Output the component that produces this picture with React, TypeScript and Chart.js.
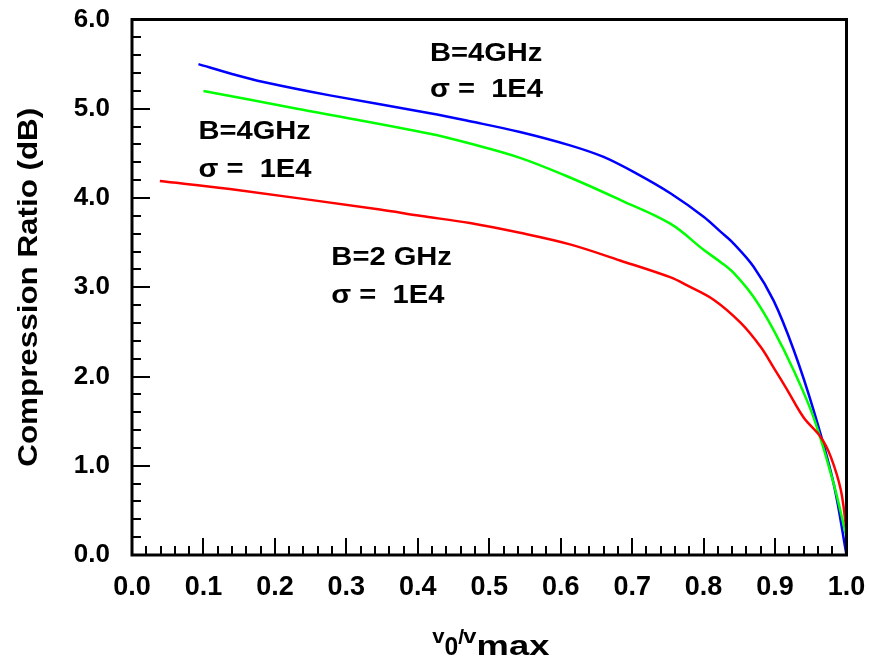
import React, { useEffect, useRef } from "react";
import { Chart, registerables } from "chart.js";

Chart.register(...registerables);

// ---- data ----
const blueX = [0.093, 0.14, 0.184, 0.277, 0.417, 0.473, 0.543, 0.613, 0.66, 0.707, 0.754, 0.80, 0.824, 0.842, 0.87, 0.898, 0.926, 0.954, 0.982, 1.0];
const blueY = [5.50, 5.39, 5.30, 5.15, 4.95, 4.86, 4.74, 4.59, 4.46, 4.27, 4.05, 3.79, 3.62, 3.49, 3.23, 2.85, 2.30, 1.62, 0.80, 0.0];

const greenX = [0.10, 0.231, 0.417, 0.473, 0.543, 0.613, 0.683, 0.754, 0.80, 0.824, 0.842, 0.87, 0.898, 0.926, 0.954, 0.982, 1.0];
const greenY = [5.20, 5.00, 4.72, 4.61, 4.45, 4.23, 3.98, 3.71, 3.42, 3.28, 3.16, 2.89, 2.52, 2.07, 1.54, 0.80, 0.2];

const redX = [0.039, 0.137, 0.347, 0.403, 0.473, 0.543, 0.613, 0.683, 0.754, 0.777, 0.814, 0.852, 0.88, 0.898, 0.917, 0.94, 0.964, 0.978, 0.992, 1.0];
const redY = [4.19, 4.10, 3.87, 3.80, 3.72, 3.61, 3.48, 3.30, 3.11, 3.02, 2.86, 2.60, 2.33, 2.10, 1.85, 1.54, 1.32, 1.10, 0.73, 0.28];

const xTickMin = 0;
const xTickMax = 1;
const xTickStep = 0.1;
const yTickMin = 0;
const yTickMax = 6;
const yTickStep = 1;

// annotation labels in data coordinates
const annoLabels = ["B=4GHz", "σ =  1E4", "B=4GHz", "σ =  1E4", "B=2 GHz", "σ =  1E4"];
const annoX = [0.417, 0.417, 0.093, 0.093, 0.279, 0.279];
const annoY = [5.53, 5.13, 4.66, 4.24, 3.25, 2.82];

const FONT = '"Liberation Sans", Arial, sans-serif';

function drawScaled(ctx: CanvasRenderingContext2D, text: string, x: number, y: number, size: number, sx: number) {
  ctx.save();
  ctx.translate(x, y);
  ctx.scale(sx, 1);
  ctx.font = `bold ${size}px ${FONT}`;
  ctx.textAlign = "left";
  ctx.textBaseline = "alphabetic";
  ctx.fillStyle = "#000";
  ctx.fillText(text, 0, 0);
  const w = ctx.measureText(text).width * sx;
  ctx.restore();
  return w;
}

const framePlugin = {
  id: "frameTicks",
  afterDraw(chart: any) {
    const ctx: CanvasRenderingContext2D = chart.ctx;
    const { left, right, top, bottom } = chart.chartArea;
    const xs = chart.scales.x;
    const ys = chart.scales.y;
    ctx.save();
    ctx.strokeStyle = "#000";
    ctx.lineWidth = 2;
    ctx.beginPath();
    for (let i = 0; i <= 50; i++) {
      const px = Math.round(xs.getPixelForValue(i * 0.02));
      const len = i % 5 === 0 ? 17 : 9;
      ctx.moveTo(px, bottom);
      ctx.lineTo(px, bottom - len);
    }
    for (let i = 0; i <= 30; i++) {
      const py = Math.round(ys.getPixelForValue(i * 0.2));
      const len = i % 5 === 0 ? 18 : 9;
      ctx.moveTo(left, py);
      ctx.lineTo(left + len, py);
    }
    ctx.stroke();
    ctx.lineWidth = 3;
    ctx.strokeRect(left, top, right - left, bottom - top);

    // annotations
    for (let i = 0; i < annoLabels.length; i++) {
      drawScaled(ctx, annoLabels[i], xs.getPixelForValue(annoX[i]), ys.getPixelForValue(annoY[i]), 26, 1.12);
    }

    // y title
    ctx.save();
    ctx.translate(37, (top + bottom) / 2);
    ctx.rotate(-Math.PI / 2);
    ctx.scale(1.12, 1);
    ctx.font = `bold 28px ${FONT}`;
    ctx.textAlign = "center";
    ctx.textBaseline = "alphabetic";
    ctx.fillStyle = "#000";
    ctx.fillText("Compression Ratio (dB)", 0, 0);
    ctx.restore();

    // x title: v0/vmax
    const cx = (left + right) / 2;
    let x = cx - 57;
    x += drawScaled(ctx, "v", x, 643, 21, 1.05);
    x += drawScaled(ctx, "0", x, 655, 26, 0.95);
    x += drawScaled(ctx, "/", x, 644, 21, 1.0) - 1;
    x += drawScaled(ctx, "v", x, 643, 21, 1.15);
    drawScaled(ctx, "max", x, 655, 28, 1.3);
    ctx.restore();
  },
};

const zeroPad = (s: any) => {
  s.paddingTop = 0;
  s.paddingBottom = 0;
  s.paddingLeft = 0;
  s.paddingRight = 0;
};

export default function App() {
  const ref = useRef<HTMLCanvasElement>(null);
  useEffect(() => {
    if (!ref.current) return;
    const mk = (xa: number[], ya: number[]) => xa.map((x, i) => ({ x, y: ya[i] }));
    const lineStyle = { borderWidth: 2.5, pointRadius: 0, tension: 0.35, fill: false };
    const chart = new Chart(ref.current, {
      type: "line",
      data: {
        datasets: [
          { data: mk(redX, redY), borderColor: "#ff0000", ...lineStyle },
          { data: mk(greenX, greenY), borderColor: "#00ff00", ...lineStyle },
          { data: mk(blueX, blueY), borderColor: "#0000ff", ...lineStyle },
        ],
      },
      options: {
        responsive: false,
        animation: false,
        devicePixelRatio: 1,
        layout: { padding: { left: 0, top: 19.5, right: 23.5, bottom: 0 } },
        plugins: { legend: { display: false }, tooltip: { enabled: false } },
        scales: {
          x: {
            type: "linear",
            min: xTickMin,
            max: xTickMax,
            grid: { display: false, drawTicks: false },
            border: { display: false },
            ticks: {
              stepSize: xTickStep,
              padding: 16,
              color: "#000",
              font: { family: FONT, weight: "bold", size: 27 },
              callback: (v: any) => Number(v).toFixed(1),
              maxRotation: 0,
              autoSkip: false,
            },
            afterFit: (s: any) => { s.height = 110; zeroPad(s); },
          },
          y: {
            type: "linear",
            min: yTickMin,
            max: yTickMax,
            grid: { display: false, drawTicks: false },
            border: { display: false },
            ticks: {
              stepSize: yTickStep,
              padding: 22,
              color: "#000",
              font: { family: FONT, weight: "bold", size: 26 },
              callback: (v: any) => Number(v).toFixed(1),
              autoSkip: false,
            },
            afterFit: (s: any) => { s.width = 132; zeroPad(s); },
          },
        },
      } as any,
      plugins: [framePlugin],
    });
    return () => chart.destroy();
  }, []);
  return (
    <div style={{ position: "fixed", left: 0, top: 0, width: 870, height: 665, background: "#fff" }}>
      <canvas ref={ref} width={870} height={665} style={{ display: "block" }} />
    </div>
  );
}
